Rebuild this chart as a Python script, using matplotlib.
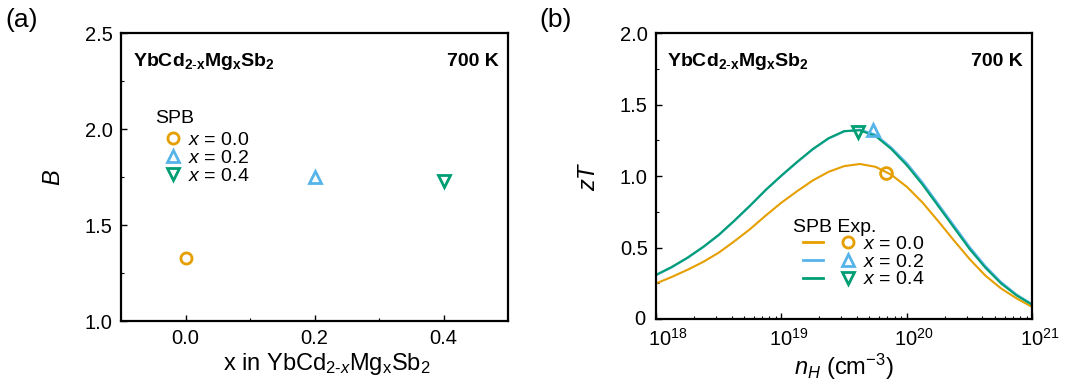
import numpy as np
import matplotlib.pyplot as plt
import matplotlib.transforms as mtransforms
from matplotlib.legend_handler import HandlerTuple
from matplotlib.ticker import MultipleLocator, LogLocator, NullFormatter

plt.rcParams['font.family'] = ['Liberation Sans', 'DejaVu Sans']
plt.rcParams['mathtext.fontset'] = 'custom'
plt.rcParams['mathtext.rm'] = 'Liberation Sans'
plt.rcParams['mathtext.it'] = 'Liberation Sans:italic'
plt.rcParams['mathtext.bf'] = 'Liberation Sans:bold'

# colours for x = 0.0, 0.2, 0.4
colors = ['#E69F00', '#56B4E9', '#009E73']
markers = ['o', '^', 'v']
labels = [r'$x$ = 0.0', r'$x$ = 0.2', r'$x$ = 0.4']

# panel (a): B from SPB model
mg_content = [0.0, 0.2, 0.4]
B_values = [1.33, 1.75, 1.73]

# panel (b): SPB zT curves vs carrier concentration (log10 n_H)
log_n = [18.0, 18.125, 18.25, 18.375, 18.5, 18.625, 18.75, 18.875, 19.0,
         19.125, 19.25, 19.375, 19.5, 19.625, 19.75, 19.875, 20.0, 20.125,
         20.25, 20.375, 20.5, 20.625, 20.75, 20.875, 21.0]
zT_x00 = [0.25, 0.295, 0.345, 0.40, 0.465, 0.545, 0.63, 0.725, 0.815, 0.895,
          0.97, 1.03, 1.07, 1.085, 1.065, 1.01, 0.925, 0.815, 0.685, 0.55,
          0.42, 0.305, 0.215, 0.145, 0.085]
zT_x02 = [0.307, 0.362, 0.427, 0.502, 0.587, 0.687, 0.792, 0.902, 1.002,
          1.097, 1.187, 1.262, 1.312, 1.325, 1.29, 1.20, 1.09, 0.955, 0.805,
          0.655, 0.505, 0.372, 0.26, 0.172, 0.104]
zT_x04 = [0.31, 0.365, 0.43, 0.505, 0.59, 0.69, 0.795, 0.905, 1.005, 1.10,
          1.19, 1.265, 1.315, 1.32, 1.28, 1.19, 1.075, 0.94, 0.79, 0.64,
          0.49, 0.36, 0.25, 0.165, 0.10]
zT_curves = [zT_x00, zT_x02, zT_x04]

# experimental points at 700 K
n_exp = [6.8e19, 5.4e19, 4.1e19]
zT_exp = [1.02, 1.32, 1.31]

fig = plt.figure(figsize=(10.72, 3.85), dpi=100)
ax1 = fig.add_axes([0.113, 0.166, 0.361, 0.748])
ax2 = fig.add_axes([0.612, 0.171, 0.351, 0.743])

tick_fs = 14.5
lab_fs = 17
leg_fs = 14
for ax in (ax1, ax2):
    for s in ax.spines.values():
        s.set_linewidth(1.6)
    ax.tick_params(which='both', direction='in', labelsize=tick_fs,
                   top=False, right=False, pad=6)
    ax.tick_params(which='major', length=4, width=1)
    ax.tick_params(which='minor', length=2.5, width=0.8)

header = r'$\mathbf{YbCd}_{\mathbf{2\text{-}x}}\mathbf{Mg}_{\mathbf{x}}\mathbf{Sb}_{\mathbf{2}}$'

# ---- panel (a)
for i in range(3):
    ax1.plot(mg_content[i], B_values[i], linestyle='none', marker=markers[i],
             markersize=8, markerfacecolor='none', markeredgecolor=colors[i],
             markeredgewidth=2, label=labels[i])
ax1.set_xlim(-0.1, 0.5)
ax1.set_ylim(1.0, 2.5)
ax1.xaxis.set_minor_locator(MultipleLocator(0.1))
ax1.yaxis.set_major_locator(MultipleLocator(0.5))
ax1.yaxis.set_minor_locator(MultipleLocator(0.25))
ax1.set_xticks([0.0, 0.2, 0.4])
ax1.set_xlabel(r'x in YbCd$_{2\text{-}x}$Mg$_{\mathrm{x}}$Sb$_{2}$', fontsize=lab_fs, labelpad=2)
ax1.xaxis.label.set_x(0.532)
ax1.set_ylabel(r'$B$', fontsize=lab_fs, labelpad=14)
ax1.text(0.03, 0.9, header, transform=ax1.transAxes, fontsize=14,
         va='center', ha='left')
ax1.text(0.975, 0.9, '700 K', transform=ax1.transAxes, fontsize=14,
         fontweight='bold', va='center', ha='right')
ax1.text(0.088, 0.705, 'SPB', transform=ax1.transAxes, fontsize=leg_fs,
         va='center', ha='left')
ax1.legend(loc='upper left', bbox_to_anchor=(0.103, 0.658), frameon=False,
           fontsize=leg_fs, borderpad=0, handletextpad=0.2, labelspacing=0.02,
           handlelength=1.2, borderaxespad=0)

# ---- panel (b)
for i in range(3):
    ax2.plot(10.0 ** np.array(log_n), zT_curves[i], color=colors[i], lw=1.5)
for i in range(3):
    ax2.plot(n_exp[i], zT_exp[i], linestyle='none', marker=markers[i],
             markersize=8.5, markerfacecolor='none',
             markeredgecolor=colors[i], markeredgewidth=2)
handles = []
for i in range(3):
    ln = plt.Line2D([], [], color=colors[i], lw=2)
    mk = plt.Line2D([], [], linestyle='none', marker=markers[i], markersize=8,
                    markerfacecolor='none', markeredgecolor=colors[i],
                    markeredgewidth=2)
    handles.append((ln, mk))
ax2.set_xscale('log')
ax2.set_xlim(1e18, 1e21)
ax2.set_ylim(0, 2.0)
ax2.yaxis.set_minor_locator(MultipleLocator(0.25))
ax2.set_yticks([0, 0.5, 1.0, 1.5, 2.0])
ax2.set_yticklabels(['0', '0.5', '1.0', '1.5', '2.0'])
ax2.xaxis.set_major_locator(LogLocator(base=10, numticks=10))
ax2.xaxis.set_minor_locator(LogLocator(base=10, subs=np.arange(2, 10), numticks=10))
ax2.xaxis.set_minor_formatter(NullFormatter())
ax2.set_xlabel(r'$n_H$ (cm$^{-3}$)', fontsize=lab_fs, labelpad=2)
ax2.set_ylabel(r'$zT$', fontsize=lab_fs, labelpad=14)
ax2.text(0.03, 0.9, header, transform=ax2.transAxes, fontsize=14,
         va='center', ha='left')
ax2.text(0.975, 0.9, '700 K', transform=ax2.transAxes, fontsize=14,
         fontweight='bold', va='center', ha='right')
ax2.text(0.364, 0.322, 'SPB Exp.', transform=ax2.transAxes, fontsize=leg_fs,
         va='center', ha='left')
ax2.legend(handles, labels, loc='upper left', bbox_to_anchor=(0.391, 0.292),
           frameon=False, fontsize=leg_fs, borderpad=0, handletextpad=0.26,
           labelspacing=0.0, handlelength=2.83, borderaxespad=0,
           handler_map={tuple: HandlerTuple(ndivide=None, pad=0.77)})

# shift the 10^n labels right so the "10" sits on its tick
fig.canvas.draw()
for k, lbl in enumerate(ax2.get_xticklabels()):
    dx = 12 if lbl.get_position()[0] <= 1.01e18 else 7
    lbl.set_transform(lbl.get_transform() +
                      mtransforms.ScaledTranslation(dx / 100, 0, fig.dpi_scale_trans))
# nudge "0" up a touch, as in the original
for lbl in ax2.get_yticklabels():
    if lbl.get_position()[1] == 0:
        lbl.set_transform(lbl.get_transform() +
                          mtransforms.ScaledTranslation(-2 / 100, 2 / 100, fig.dpi_scale_trans))

fig.text(0.005, 0.93, '(a)', fontsize=19)
fig.text(0.503, 0.93, '(b)', fontsize=19)

fig.savefig('out.png', dpi=100)
